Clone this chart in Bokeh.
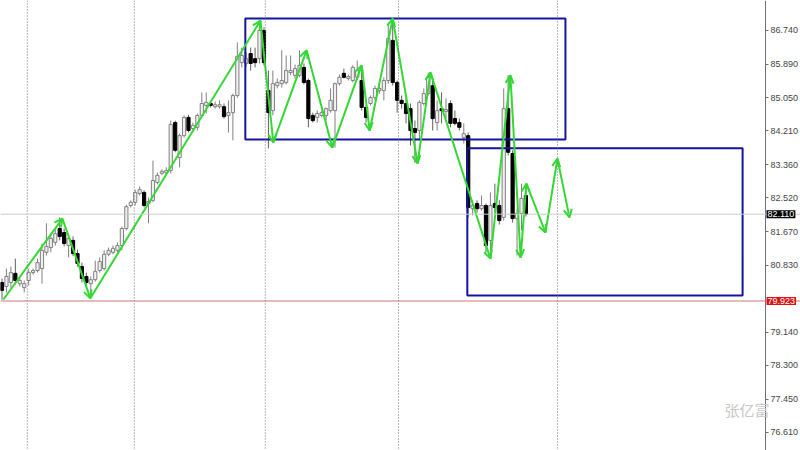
from bokeh.plotting import figure
from bokeh.models import (Range1d, FixedTicker, PrintfTickFormatter, Span, Label,
                          Arrow, OpenHead, ColumnDataSource, LinearAxis)
from bokeh.embed import file_html
from bokeh.resources import INLINE

# ---- candle data (bar index = position in list) ----
opens = [80.39, 80.29, 80.39, 80.62, 80.36, 80.26, 80.44, 80.64, 80.69, 80.74,
         81.15, 81.27, 81.40, 81.75, 81.65, 81.32, 81.45, 81.12, 80.79, 80.54,
         80.36, 80.46, 80.69, 80.74, 81.10, 81.15, 81.20, 81.32, 81.75, 82.33,
         82.41, 82.63, 82.66, 82.38, 82.46, 82.91, 83.14, 83.16, 83.21, 84.42,
         83.54, 84.09, 84.55, 84.27, 84.30, 84.60, 84.85, 84.90, 84.82, 84.82,
         84.82, 84.60, 84.67, 85.10, 85.93, 85.91, 86.16, 86.03, 86.03, 86.74,
         85.23, 84.72, 85.35, 85.40, 85.43, 85.68, 85.61, 85.61, 85.81, 85.48,
         84.60, 84.55, 84.60, 84.60, 84.72, 84.72, 85.40, 85.66, 85.53, 85.48,
         85.56, 85.48, 84.80, 84.90, 85.05, 85.23, 85.23, 85.48, 86.49, 85.43,
         84.98, 84.90, 84.77, 84.27, 84.22, 84.90, 85.15, 85.35, 84.42, 84.77,
         84.70, 84.90, 84.52, 84.42, 84.04, 84.09, 82.25, 82.38, 82.25, 82.33,
         81.45, 82.38, 82.33, 82.03, 84.77, 83.64, 82.00, 82.13, 82.58]
highs = [80.49, 80.74, 80.79, 80.99, 80.54, 80.44, 80.74, 80.74, 80.99, 81.37,
         81.88, 81.60, 81.73, 82.03, 81.75, 81.62, 81.55, 81.22, 80.89, 80.64,
         80.54, 80.94, 81.02, 81.20, 81.27, 81.32, 81.40, 81.80, 82.35, 82.46,
         82.73, 82.81, 82.71, 82.53, 83.46, 83.16, 83.24, 83.29, 84.47, 84.47,
         84.14, 84.60, 84.62, 84.42, 84.65, 85.18, 85.18, 84.98, 84.95, 84.98,
         84.90, 84.98, 85.15, 86.44, 86.31, 86.19, 86.31, 86.31, 86.99, 86.82,
         85.73, 85.73, 85.53, 86.24, 86.11, 86.11, 85.88, 86.24, 85.91, 85.53,
         84.67, 84.72, 84.72, 84.80, 85.28, 85.43, 85.63, 85.78, 85.63, 85.86,
         85.98, 85.86, 84.85, 85.10, 85.35, 85.35, 85.56, 86.94, 87.04, 85.48,
         85.10, 85.05, 84.90, 84.47, 84.98, 85.28, 85.68, 85.48, 84.98, 85.18,
         85.03, 84.98, 84.72, 84.52, 84.40, 84.17, 82.46, 82.46, 82.58, 82.38,
         82.66, 82.88, 82.46, 85.28, 85.61, 83.72, 82.25, 82.88, 82.83]
lows = [79.96, 80.14, 80.26, 80.34, 80.29, 80.14, 80.31, 80.59, 80.64, 80.36,
        81.07, 81.15, 81.32, 81.45, 81.30, 81.02, 81.05, 80.79, 80.39, 80.29,
        79.99, 80.41, 80.64, 80.69, 81.05, 81.10, 81.15, 81.20, 81.70, 82.28,
        82.33, 82.58, 82.28, 81.88, 82.41, 82.86, 83.09, 83.11, 83.14, 83.67,
        83.29, 84.04, 84.17, 84.22, 84.22, 84.55, 84.65, 84.80, 84.77, 84.77,
        84.52, 84.17, 83.97, 85.05, 85.81, 85.83, 85.73, 85.81, 85.91, 85.86,
        83.77, 84.60, 85.28, 85.30, 85.38, 85.61, 85.53, 85.56, 85.38, 84.30,
        84.42, 84.42, 84.55, 84.47, 84.67, 83.79, 85.35, 85.53, 85.48, 85.43,
        85.50, 84.72, 84.42, 84.85, 84.98, 85.15, 84.98, 85.40, 85.35, 84.67,
        84.77, 84.40, 83.84, 83.41, 83.97, 84.85, 85.10, 84.22, 84.22, 84.40,
        84.52, 84.30, 84.35, 84.22, 83.89, 82.03, 82.08, 82.15, 82.20, 81.15,
        80.99, 82.15, 81.85, 81.95, 83.59, 81.90, 81.07, 81.70, 82.05]
closes = [80.19, 80.54, 80.64, 80.44, 80.44, 80.36, 80.64, 80.69, 80.89, 81.20,
          81.30, 81.50, 81.62, 81.55, 81.37, 81.50, 81.12, 80.87, 80.49, 80.39,
          80.46, 80.67, 80.92, 81.10, 81.20, 81.25, 81.32, 81.75, 82.30, 82.41,
          82.66, 82.73, 82.33, 82.43, 82.96, 83.09, 83.19, 83.21, 84.37, 83.72,
          84.09, 84.55, 84.22, 84.35, 84.60, 84.90, 84.93, 84.85, 84.87, 84.87,
          84.57, 84.67, 85.10, 86.09, 86.11, 86.03, 85.91, 85.93, 86.74, 85.93,
          84.67, 85.40, 85.43, 85.48, 85.73, 85.73, 85.78, 85.86, 85.43, 84.52,
          84.47, 84.65, 84.67, 84.77, 84.98, 85.40, 85.56, 85.56, 85.58, 85.81,
          85.73, 84.80, 84.55, 85.05, 85.28, 85.28, 85.48, 86.54, 85.43, 84.98,
          84.90, 84.65, 84.22, 84.17, 84.93, 85.15, 85.56, 84.52, 84.72, 84.72,
          84.75, 84.40, 84.40, 84.30, 84.14, 82.28, 82.33, 82.25, 82.33, 81.32,
          82.33, 82.28, 81.95, 84.77, 83.67, 82.00, 82.13, 82.51, 82.11]

# ---- zigzag vertices (bar position, price) ----
zz_bar = [0.3, 13.6, 19.9, 58.2, 61.1, 68.6, 74.4, 81.0, 82.8, 88.0,
          93.6, 96.5, 110.0, 114.5, 116.8, 118.1, 122.4, 125.1, 127.8]
zz_price = [79.96, 82.00, 79.99, 86.99, 83.92, 86.24, 83.79, 85.86, 84.22, 87.04,
            83.39, 85.68, 80.99, 85.61, 81.02, 82.88, 81.65, 83.51, 82.03]

# ---- rectangles (bar left, bar right, price top, price bottom) ----
box_left = [54.8, 104.8]
box_right = [126.9, 166.8]
box_top = [87.04, 83.77]
box_bottom = [83.99, 80.06]

# ---- period separators (bar positions) ----
separators = [5.7, 29.8, 59.3, 89.3, 125.1]

# ---- price levels ----
last_price = 82.110
red_level = 79.923
tick_values = [86.740, 85.890, 85.050, 84.210, 83.360, 82.520, 81.670, 80.830,
               79.140, 78.300, 77.450, 76.610]

X_START, X_END = -0.34, 179.84
AXIS_AT = 171.96
Y_START, Y_END = 76.155, 87.496

p = figure(frame_width=800, frame_height=450, output_backend="svg",
           toolbar_location=None, x_axis_location=None, y_axis_location=None,
           x_range=Range1d(X_START, X_END), y_range=Range1d(Y_START, Y_END),
           min_border=0)
p.outline_line_color = None
p.background_fill_color = "white"
p.border_fill_color = "white"
p.grid.visible = False

ax = LinearAxis(fixed_location=AXIS_AT)
ax.ticker = FixedTicker(ticks=tick_values)
ax.formatter = PrintfTickFormatter(format="%.3f")
ax.major_label_text_font = "Liberation Sans"
ax.major_label_text_font_size = "9px"
ax.major_label_text_color = "#444444"
ax.axis_line_color = "#707070"
ax.major_tick_line_color = "#707070"
ax.major_tick_out = 3
ax.major_tick_in = 0
ax.minor_tick_line_color = None
ax.major_label_standoff = 2
p.add_layout(ax, "right")

for s in separators:
    p.add_layout(Span(location=s, dimension="height", line_color="#707070",
                      line_dash="1 2", line_width=1))
p.add_layout(Span(location=last_price, dimension="width", line_color="#cccccc", line_width=1))
p.add_layout(Span(location=red_level, dimension="width", line_color="#c87878", line_width=1))

bars = list(range(len(opens)))
bull = [i for i in bars if closes[i] >= opens[i]]
bear = [i for i in bars if closes[i] < opens[i]]

def src(idx):
    return ColumnDataSource(dict(
        x=idx,
        hi=[highs[i] for i in idx],
        lo=[lows[i] for i in idx],
        top=[max(opens[i], closes[i]) for i in idx],
        bot=[min(opens[i], closes[i]) for i in idx]))

sb, sr = src(bull), src(bear)
p.segment(x0="x", y0="hi", x1="x", y1="lo", source=sb, line_color="#808080", line_width=1)
p.segment(x0="x", y0="hi", x1="x", y1="lo", source=sr, line_color="#606060", line_width=1)
p.vbar(x="x", width=0.72, top="top", bottom="bot", source=sb,
       fill_color="#f0f0f0", line_color="#808080", line_width=1)
p.vbar(x="x", width=0.72, top="top", bottom="bot", source=sr,
       fill_color="black", line_color="black", line_width=1)

p.quad(left=box_left, right=box_right, top=box_top, bottom=box_bottom,
       fill_color=None, line_color="#1414a0", line_width=2)

green = "#34d834"
p.line(zz_bar, zz_price, line_color=green, line_width=2)
asrc = ColumnDataSource(dict(x0=zz_bar[:-1], y0=zz_price[:-1], x1=zz_bar[1:], y1=zz_price[1:]))
p.add_layout(Arrow(end=OpenHead(size=8, line_color=green, line_width=2),
                   x_start="x0", y_start="y0", x_end="x1", y_end="y1",
                   source=asrc, line_alpha=0))

for lvl, bg in [(last_price, "black"), (red_level, "#e01010")]:
    p.add_layout(Label(x=AXIS_AT, y=lvl, text=f"{lvl:.3f}", x_offset=1,
                       text_baseline="middle", text_align="left", text_color="white",
                       text_font="Liberation Sans", text_font_size="9px",
                       background_fill_color=bg, padding=1))
p.add_layout(Label(x=724, y=41, x_units="screen", y_units="screen", text="张亿富",
                   text_baseline="middle", text_align="left", text_color="#c8c8c8",
                   text_font="Noto Sans CJK SC", text_font_size="15px"))

open("out.html", "w").write(file_html(p, INLINE))
